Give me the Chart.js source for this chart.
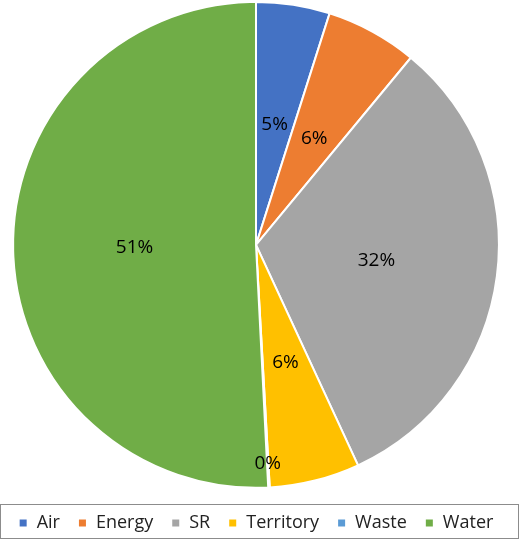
<!DOCTYPE html>
<html>
<head>
<meta charset="utf-8">
<script src="https://cdn.jsdelivr.net/npm/chart.js@4"></script>
<style>
    html, body { margin: 0; padding: 0; background: #fff; }
    #wrap { width: 520px; height: 540px; }
</style>
</head>
<body>
<div id="wrap"><canvas id="chart" width="520" height="540"></canvas></div>
<script>
const categories = ["Air", "Energy", "SR", "Territory", "Waste", "Water"];
const shares = [4.9, 6.1, 32.1, 6.0, 0.1, 50.8];
const colors = ["#4472C4", "#ED7D31", "#A5A5A5", "#FFC000", "#5B9BD5", "#70AD47"];

// percentage labels drawn inside each slice
const sliceLabels = {
    id: "sliceLabels",
    afterDatasetsDraw(chart) {
        const ctx = chart.ctx;
        const meta = chart.getDatasetMeta(0);
        const total = shares.reduce((a, b) => a + b, 0);
        ctx.save();
        ctx.font = "19px 'Open Sans', sans-serif";
        ctx.fillStyle = "#000";
        ctx.textAlign = "center";
        ctx.textBaseline = "middle";
        meta.data.forEach((arc, i) => {
            const pct = Math.round(shares[i] / total * 100) + "%";
            let pos = arc.tooltipPosition();
            if (shares[i] < 1) {
                // tiny slice: push label towards the rim
                const mid = (arc.startAngle + arc.endAngle) / 2;
                const r = arc.outerRadius * 0.9;
                pos = { x: arc.x + Math.cos(mid) * r, y: arc.y + Math.sin(mid) * r };
            }
            ctx.fillText(pct, pos.x, pos.y);
        });
        ctx.restore();
    }
};

// thin frame around the legend
const legendFrame = {
    id: "legendFrame",
    afterDraw(chart) {
        const ctx = chart.ctx;
        ctx.save();
        ctx.strokeStyle = "#8c8c8c";
        ctx.lineWidth = 1;
        ctx.strokeRect(0.5, 504.5, 518, 34);
        ctx.restore();
    }
};

new Chart(document.getElementById("chart").getContext("2d"), {
    type: "pie",
    data: {
        labels: categories,
        datasets: [{
            data: shares,
            backgroundColor: colors,
            borderColor: "#fff",
            borderWidth: 2
        }]
    },
    options: {
        responsive: false,
        animation: false,
        layout: { padding: { top: 1, right: 8, left: 0, bottom: -2 } },
        plugins: {
            tooltip: { enabled: false },
            legend: {
                position: "bottom",
                // empty title only used as a spacer above the items
                title: { display: true, text: "", font: { size: 1 }, padding: { top: 0, bottom: 6 } },
                labels: {
                    boxWidth: 9,
                    boxHeight: 9,
                    padding: 18,
                    color: "#222",
                    font: { family: "'Open Sans', sans-serif", size: 18 }
                }
            }
        }
    },
    plugins: [sliceLabels, legendFrame]
});
</script>
</body>
</html>
